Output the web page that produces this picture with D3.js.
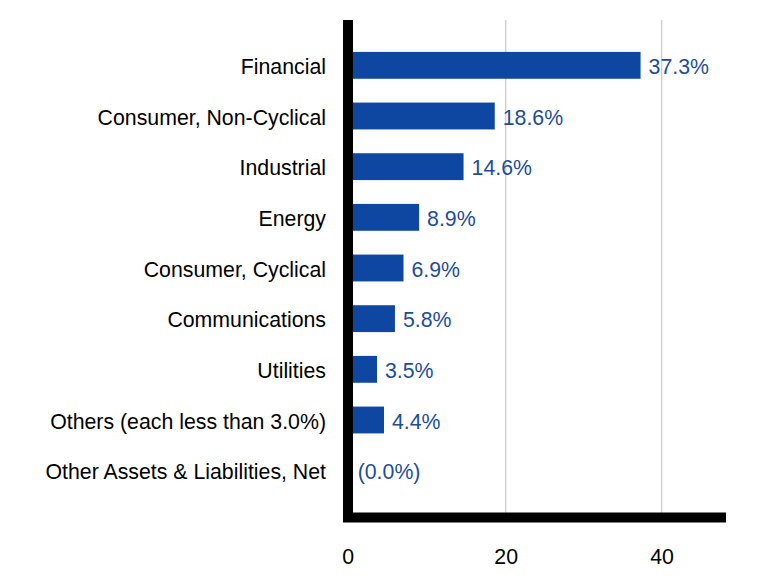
<!DOCTYPE html>
<html><head><meta charset="utf-8">
<script src="https://cdn.jsdelivr.net/npm/d3@7"></script>
<style>body{margin:0;background:#fff}svg{display:block}text{font-family:"Liberation Sans",Arial,sans-serif}</style>
</head><body><svg id="c" width="780" height="588"></svg>
<script>
const categories = ["Financial","Consumer, Non-Cyclical","Industrial","Energy","Consumer, Cyclical","Communications","Utilities","Others (each less than 3.0%)","Other Assets & Liabilities, Net"];
const values = [37.3,18.6,14.6,8.9,6.9,5.8,3.5,4.4,0.0];
const valueLabels = ["37.3%","18.6%","14.6%","8.9%","6.9%","5.8%","3.5%","4.4%","(0.0%)"];
const tickValues = [0,20,40];

const svg = d3.select("#c");
const x = d3.scaleLinear().domain([0,48]).range([349.7,724]);
const y = d3.scaleBand().domain(categories).range([40,496]).paddingInner(0.47).paddingOuter(0.235);
const barColor = "#0d47a1", labelColor = "#1c4d9c";
const fs = 21.3;

// gridlines
svg.append("g").selectAll("line").data(tickValues.filter(d=>d>0)).join("line")
  .attr("x1",d=>x(d)).attr("x2",d=>x(d)).attr("y1",20).attr("y2",513)
  .attr("stroke","#d0d0d0").attr("stroke-width",1.5);

// bars
svg.append("g").selectAll("rect").data(values).join("rect")
  .attr("x",x(0)).attr("y",(d,i)=>y(categories[i]))
  .attr("width",d=>Math.max(0,x(d)-x(0))).attr("height",y.bandwidth())
  .attr("fill",barColor);

// value labels
svg.append("g").selectAll("text").data(values).join("text")
  .attr("x",d=>Math.max(x(d)+8, 356)).attr("y",(d,i)=>y(categories[i])+y.bandwidth()/2)
  .attr("dy","0.4em").attr("font-size",fs).attr("fill",labelColor)
  .text((d,i)=>valueLabels[i]);

// category labels
svg.append("g").selectAll("text").data(categories).join("text")
  .attr("x",326).attr("y",d=>y(d)+y.bandwidth()/2).attr("dy","0.4em")
  .attr("text-anchor","end").attr("font-size",fs).attr("fill","#000")
  .text(d=>d);

// axis lines
svg.append("line").attr("x1",348).attr("x2",348).attr("y1",20).attr("y2",522).attr("stroke","#000").attr("stroke-width",10);
svg.append("line").attr("x1",343).attr("x2",726).attr("y1",517.5).attr("y2",517.5).attr("stroke","#000").attr("stroke-width",10);

// tick labels
const xAxis = d3.axisBottom(x).tickValues(tickValues).tickSize(0).tickPadding(0);
const ax = svg.append("g").attr("transform","translate(0,564)").call(xAxis);
ax.select(".domain").remove();
ax.selectAll("text").attr("font-size",fs).attr("fill","#000").attr("font-family","Liberation Sans, Arial, sans-serif").attr("dy","0");
ax.selectAll(".tick").filter(d=>d===0).select("text").attr("x",-2);
</script></body></html>
